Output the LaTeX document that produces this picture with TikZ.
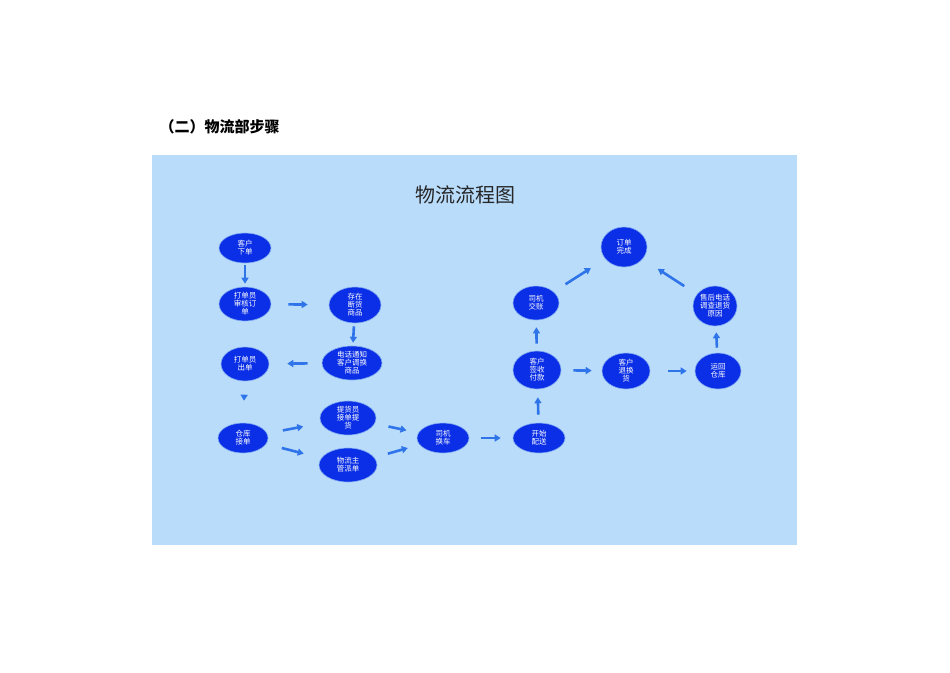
\documentclass[tikz,border=0pt]{standalone}
\usepackage{fontspec}
\setmainfont{Noto Sans CJK SC}
\usetikzlibrary{arrows.meta}
\definecolor{panel}{HTML}{B9DCFB}
\definecolor{nodeblue}{HTML}{0B2FE6}
\definecolor{arblue}{HTML}{2F74E8}
\begin{document}
\begin{tikzpicture}[x=1pt,y=-1pt,
  st/.style={ellipse,fill=nodeblue,draw=arblue!60,line width=0.6pt,text=white,font=\fontsize{7.5}{8}\selectfont,align=center,inner sep=0pt},
  ar/.style={draw=arblue,line width=2.6pt,-{Triangle[length=6pt,width=7pt]}}]
\usetikzlibrary{shapes.geometric}
\useasboundingbox (0,0) rectangle (950,672);
\fill[white] (0,0) rectangle (950,672);
\fill[panel] (152,155) rectangle (797,545);
\node[font=\fontsize{15}{16}\selectfont\bfseries,anchor=west] (hd) at (156,127) {（二）物流部步骤};
\node[font=\fontsize{20}{22}\selectfont,text=black!85] (tt) at (465,195) {物流流程图};
\node[st,minimum width=52pt,minimum height=30pt] (a) at (245,248) {客户\\下单};
\node[st,minimum width=52pt,minimum height=34pt] (b) at (245,304) {打单员\\审核订\\单};
\node[st,minimum width=52pt,minimum height=36pt] (c) at (355,305) {存在\\断货\\商品};
\node[st,minimum width=60pt,minimum height=34pt] (d) at (352,363) {电话通知\\客户调换\\商品};
\node[st,minimum width=48pt,minimum height=34pt] (e) at (245,364) {打单员\\出单};
\node[st,minimum width=50pt,minimum height=30pt] (f) at (243,438) {仓库\\接单};
\node[st,minimum width=56pt,minimum height=34pt] (g) at (348,418) {提货员\\接单提\\货};
\node[st,minimum width=58pt,minimum height=34pt] (h) at (348,465) {物流主\\管派单};
\node[st,minimum width=52pt,minimum height=30pt] (i) at (443,438) {司机\\换车};
\node[st,minimum width=52pt,minimum height=30pt] (j) at (539,438) {开始\\配送};
\node[st,minimum width=48pt,minimum height=38pt] (k) at (537,370) {客户\\签收\\付款};
\node[st,minimum width=48pt,minimum height=36pt] (l) at (626,371) {客户\\退换\\货};
\node[st,minimum width=46pt,minimum height=36pt] (m) at (718,371) {运回\\仓库};
\node[st,minimum width=44pt,minimum height=40pt] (n) at (715,306) {售后电话\\调查退货\\原因};
\node[st,minimum width=46pt,minimum height=34pt] (o) at (536,303) {司机\\交账};
\node[st,minimum width=46pt,minimum height=40pt] (p) at (624,247) {订单\\完成};
\draw[ar,shorten <=2pt,shorten >=3pt] (a) -- (b);
\draw[ar,shorten <=17pt,shorten >=21pt] (b) -- (c);
\draw[ar,shorten <=3pt,shorten >=3pt] (c) -- (d);
\draw[ar,shorten <=14pt,shorten >=18pt] (d) -- (e);
\draw[ar,shorten <=17pt,shorten >=22pt] (e) -- (f);
\draw[ar,shorten <=16pt,shorten >=18pt] (f) -- (g);
\draw[ar,shorten <=16pt,shorten >=18pt] (f) -- (h);
\draw[ar,shorten <=14pt,shorten >=12pt] (g) -- (i);
\draw[ar,shorten <=14pt,shorten >=12pt] (h) -- (i);
\draw[ar,shorten <=12pt,shorten >=12pt] (i) -- (j);
\draw[ar,shorten <=8pt,shorten >=8pt] (j) -- (k);
\draw[ar,shorten <=7pt,shorten >=7pt] (k) -- (o);
\draw[ar,shorten <=14pt,shorten >=17pt] (o) -- (p);
\draw[ar,shorten <=15pt,shorten >=18pt] (n) -- (p);
\draw[ar,shorten <=5pt,shorten >=6pt] (m) -- (n);
\draw[ar,shorten <=12pt,shorten >=10pt] (k) -- (l);
\draw[ar,shorten <=18pt,shorten >=8pt] (l) -- (m);
\end{tikzpicture}
\end{document}
